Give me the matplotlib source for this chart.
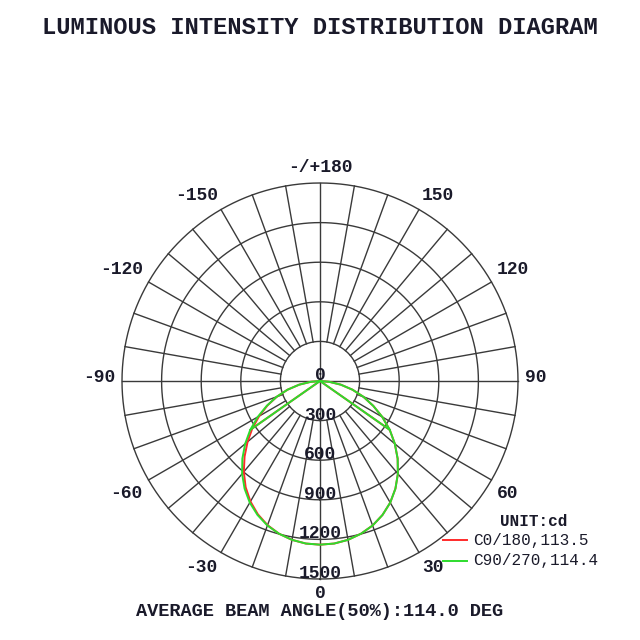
import numpy as np
import matplotlib
matplotlib.use('Agg')
import matplotlib.pyplot as plt

# gamma angles (deg) and intensities (cd)
gamma = [0, 5, 10, 15, 20, 25, 30, 35, 40, 45, 50, 55, 60, 65, 70, 75, 80, 85, 90]
c0 = [1240, 1236, 1222, 1198, 1165, 1120, 1064, 996, 918, 832, 740, 645, 545, 445, 350, 255, 160, 70, 0]
c180 = [1240, 1236, 1222, 1198, 1162, 1114, 1054, 982, 898, 808, 716, 626, 532, 440, 348, 255, 160, 70, 0]
c90 = [1240, 1236, 1222, 1198, 1165, 1120, 1064, 996, 918, 832, 740, 645, 545, 445, 350, 255, 160, 70, 0]
c270 = [1240, 1236, 1222, 1198, 1165, 1120, 1064, 996, 918, 832, 740, 645, 545, 445, 350, 255, 160, 70, 0]
chord_angle = 55

rings = [300, 600, 900, 1200, 1500]
ring_labels = ['0', '300', '600', '900', '1200', '1500']
angle_ticks = [150, 120, 90, 60, 30]
angle_labels = ['150', '120', '90', '60', '30']

legend_names = ['C0/180,113.5', 'C90/270,114.4']
title = 'LUMINOUS INTENSITY DISTRIBUTION DIAGRAM'
footer = 'AVERAGE BEAM ANGLE(50%):114.0 DEG'

# where the angle numbers sit, px offset from the centre (right half, mirrored)
label_offsets = {150: (118, -185), 120: (193, -111), 90: (215.5, -4),
                 60: (188, 112), 30: (113, 187)}

RED = '#ff2a2a'
GREEN = '#2ddc2d'
GRID = '#3a3a3a'
TXT = '#1a1a2a'
MONO = ['Liberation Mono', 'DejaVu Sans Mono']


def to_xy(theta_deg, r):
    t = np.radians(np.asarray(theta_deg, dtype=float))
    r = np.asarray(r, dtype=float)
    return r * np.sin(t), -r * np.cos(t)


def lobe(gam, right, left):
    th = [-g for g in gam[::-1]] + list(gam[1:])
    rr = list(left[::-1]) + list(right[1:])
    return to_xy(th, rr)


fig = plt.figure(figsize=(6.4, 6.4), dpi=100)
ax = fig.add_axes([0, 0, 1, 1])
ax.set_axis_off()

k = 198 / 1500.0  # px per cd
cx, cy = 320, 381
ax.set_xlim(-cx / k, (640 - cx) / k)
ax.set_ylim(-(640 - cy) / k, cy / k)

# grid
phi = np.linspace(0, 360, 721)
for rv in rings:
    x, y = to_xy(phi, np.full_like(phi, rv))
    ax.plot(x, y, color=GRID, lw=1.0, zorder=1)
for a in range(0, 360, 10):
    if a % 90 == 0:
        x, y = to_xy([a, a], [0, rings[-1]])
    else:
        x, y = to_xy([a, a], [rings[0], rings[-1]])
    ax.plot(x, y, color=GRID, lw=1.0, zorder=1)

# curves
for right, left, col in [(c0, c180, RED), (c90, c270, GREEN)]:
    x, y = lobe(gamma, right, left)
    ax.plot(x, y, color=col, lw=1.4, zorder=3)
    i = gamma.index(chord_angle)
    for sgn, vals in [(1, right), (-1, left)]:
        x, y = to_xy([0, sgn * chord_angle], [0, vals[i]])
        ax.plot(x, y, color=col, lw=1.4, zorder=3)

fs = 13
cw = 0.6 * fs * 100 / 72 / k  # one monospace char, in data units

# radial labels
for j, lab in enumerate(ring_labels):
    rv = 0 if j == 0 else rings[j - 1]
    ax.text(0, -rv + 5.5 / k, lab, ha='center', va='center', fontsize=fs,
            family=MONO, fontweight='bold', color=TXT, zorder=4)

# angle labels (minus sign hangs to the left of the number)
for a, lab in zip(angle_ticks, angle_labels):
    dx, dy = label_offsets[a]
    ax.text(dx / k, -dy / k, lab, ha='center', va='center', fontsize=fs,
            family=MONO, fontweight='bold', color=TXT)
    ax.text(-dx / k - cw / 2, -dy / k, '-' + lab, ha='center', va='center',
            fontsize=fs, family=MONO, fontweight='bold', color=TXT)
ax.text(0, 213 / k, '-/+180', ha='center', va='center', fontsize=fs,
        family=MONO, fontweight='bold', color=TXT)
ax.text(0, -213 / k, '0', ha='center', va='center', fontsize=fs,
        family=MONO, fontweight='bold', color=TXT)

fig.text(0.5, 1 - 27 / 640, title, ha='center', va='center', fontsize=17.1,
         family=MONO, fontweight='bold', color=TXT)
fig.text(0.5, 1 - 611 / 640, footer, ha='center', va='center', fontsize=13.4,
         family=MONO, fontweight='bold', color=TXT)

# legend
fig.text(534 / 640, 1 - 521 / 640, 'UNIT:cd', ha='center', va='center',
         fontsize=11.5, family=MONO, fontweight='bold', color=TXT)
for n, (name, col) in enumerate(zip(legend_names, [RED, GREEN])):
    yy = 1 - (540 + 21 * n) / 640
    fig.add_artist(plt.Line2D([443 / 640, 467 / 640], [yy, yy], color=col, lw=1.4))
    fig.text(473 / 640, yy, name, ha='left', va='center', fontsize=11.5,
             family=MONO, color=TXT)

fig.savefig('out.png', dpi=100, facecolor='white')
